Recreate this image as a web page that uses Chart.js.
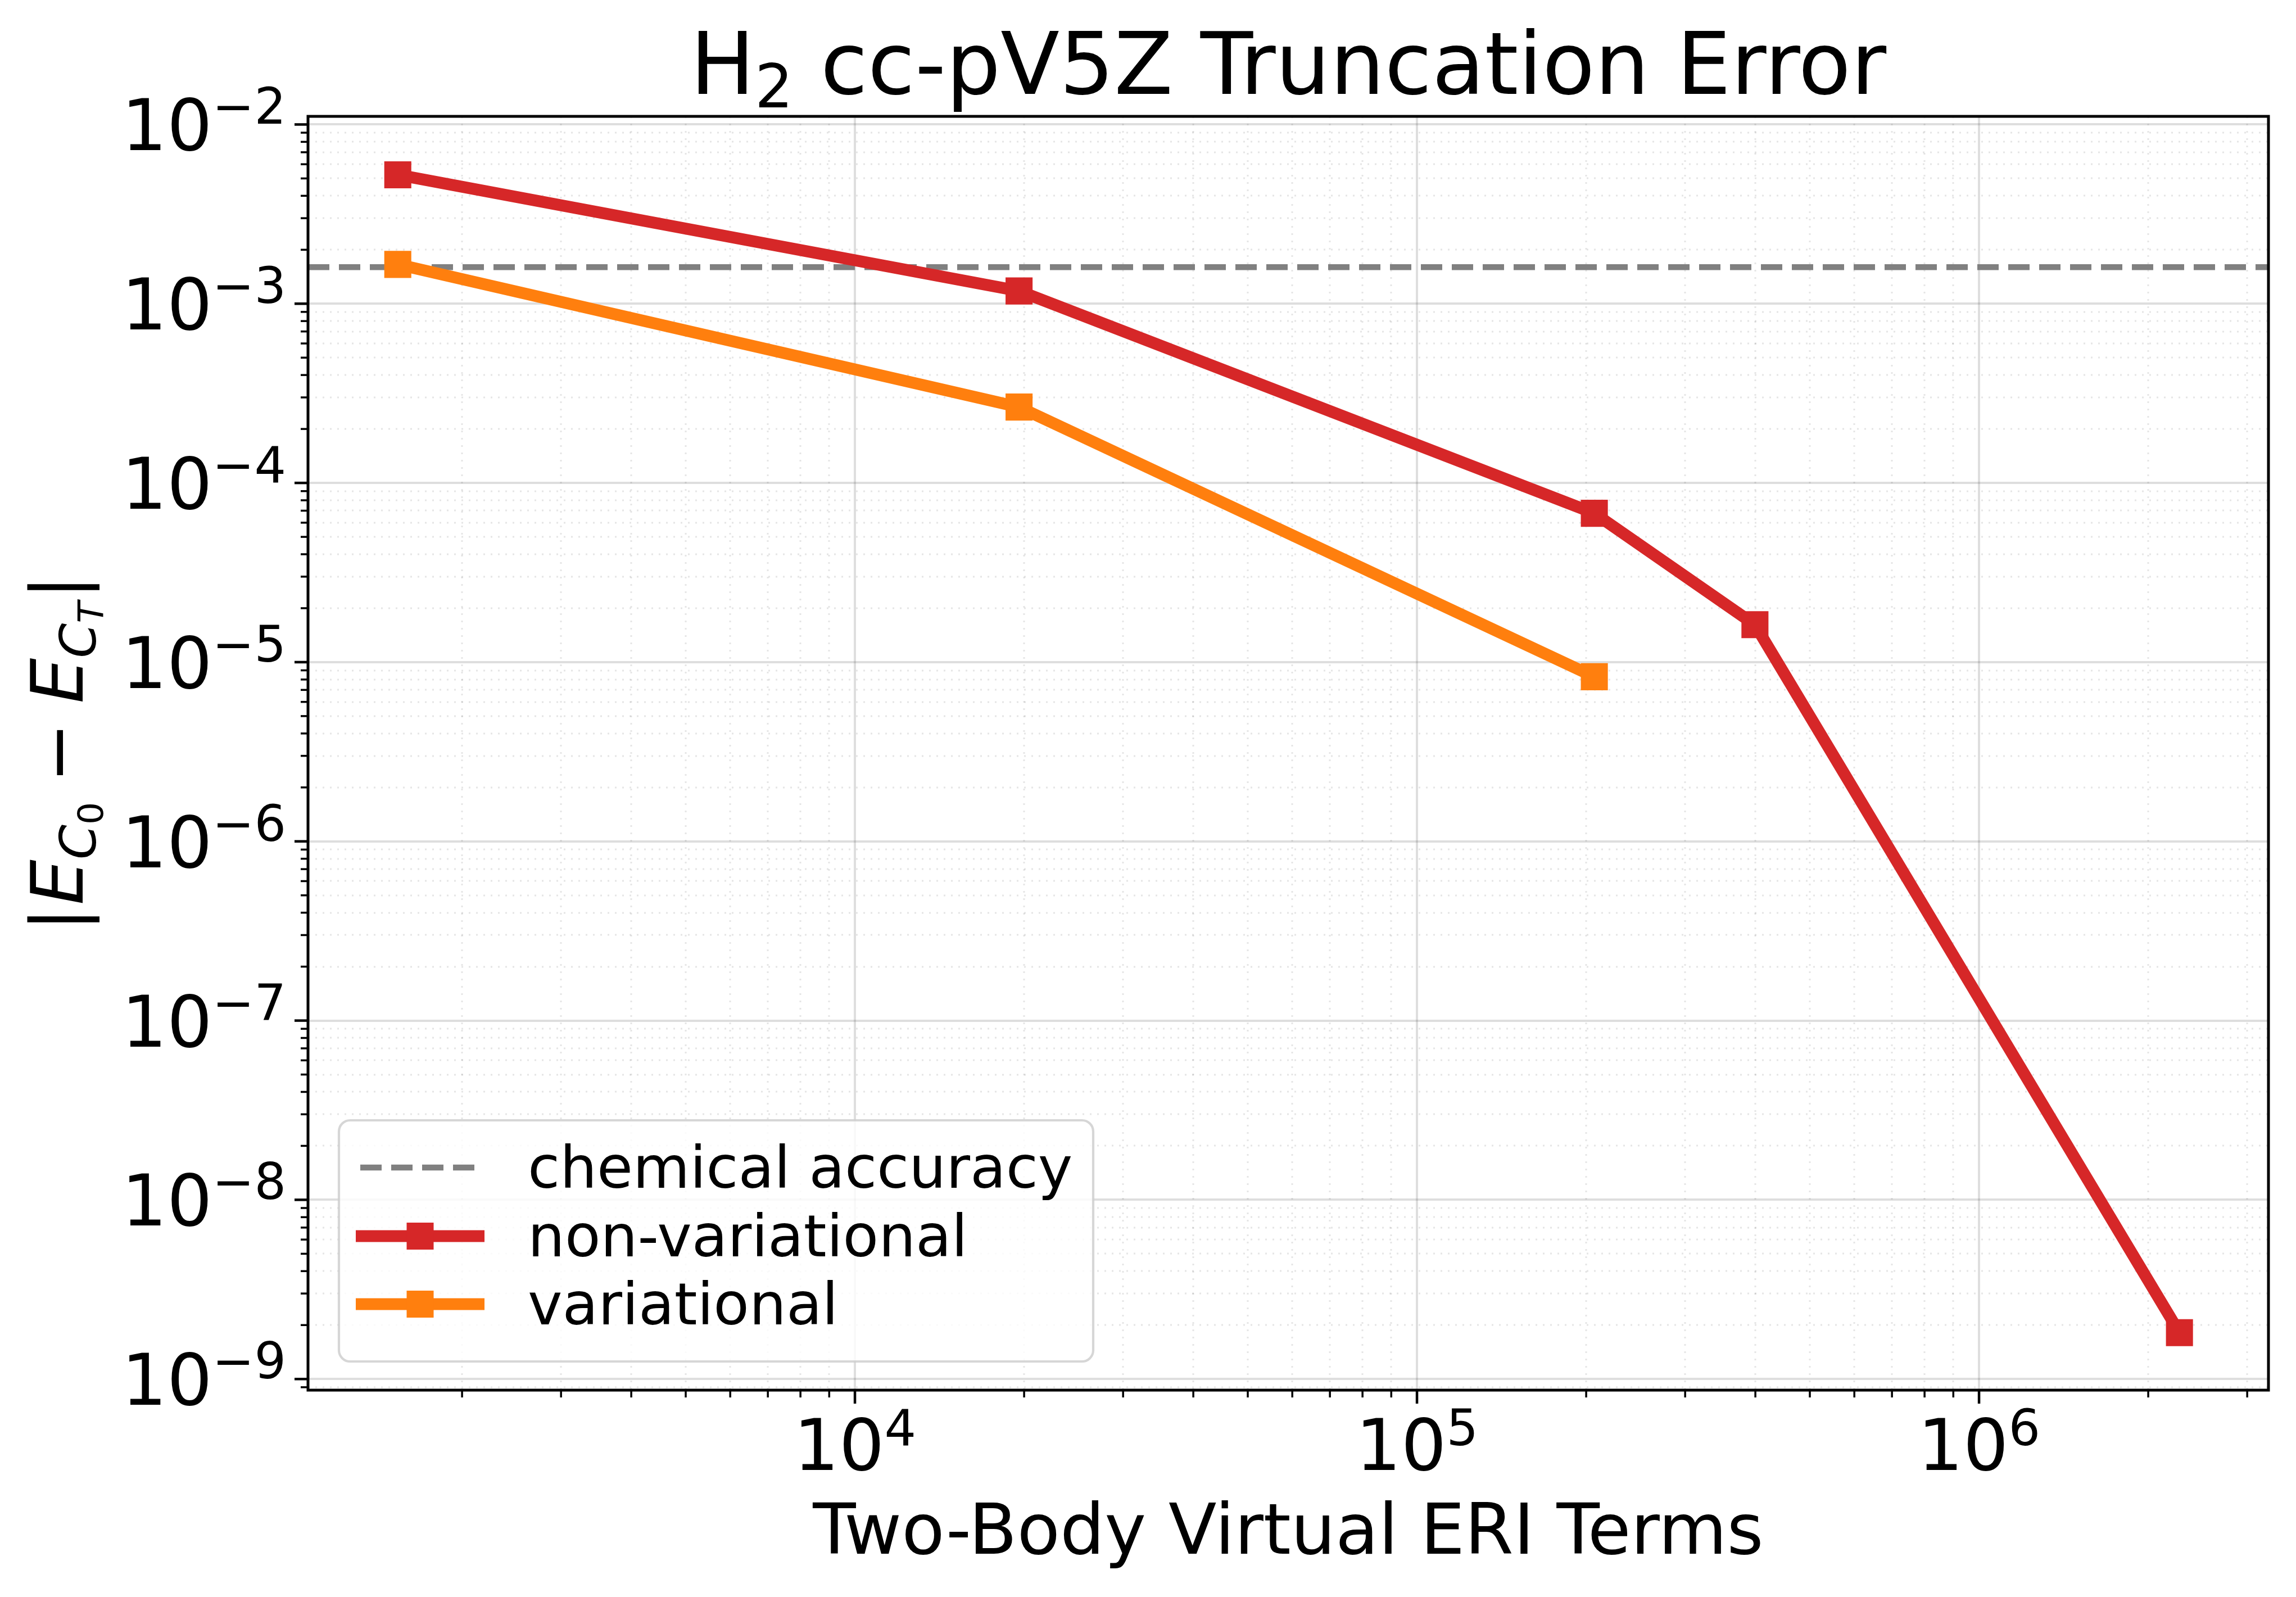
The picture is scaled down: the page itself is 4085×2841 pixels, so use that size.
<!DOCTYPE html>
<html>
<head>
<meta charset="utf-8">
<title>H2 cc-pV5Z Truncation Error</title>
<script src="https://cdn.jsdelivr.net/npm/chart.js@4.4.1/dist/chart.umd.min.js"></script>
<style>
  html, body { margin: 0; padding: 0; background: #fff; }
  canvas { display: block; }
</style>
</head>
<body>
<canvas id="chartResults" width="4085" height="2841" style="width:4085px;height:2841px"></canvas>
<script>
'use strict';

// values
var nonVarTerms = [1537, 19590, 206800, 399300, 2273000];
var nonVarError = [5.24e-3, 1.178e-3, 6.77e-5, 1.618e-5, 1.815e-9];
var varTerms = [1537, 19590, 206800];
var varError = [1.657e-3, 2.65e-4, 8.29e-6];
var chemAccuracy = [1.6e-3];

// axis limits and labelled decades
var xLimits = [1064, 3.273e6];
var yLimits = [8.67e-10, 1.11e-2];
var xMajorExp = [4, 5, 6];
var yMajorExp = [-9, -8, -7, -6, -5, -4, -3, -2];

var FONT = "'DejaVu Sans'";
var RED = '#d62728';
var ORANGE = '#ff7f0e';
var GRAY = '#808080';

function pts(xs, ys){
  return xs.map(function(x, i){ return {x: x, y: ys[i]}; });
}

function isMajor(v){
  var e = Math.log10(v);
  return Math.abs(e - Math.round(e)) < 1e-6;
}

// minor tick values (2..9 x 10^n) inside a range
function minorValues(lim){
  var out = [];
  var lo = Math.floor(Math.log10(lim[0])), hi = Math.ceil(Math.log10(lim[1]));
  for(let e = lo; e <= hi; ++e){
    for(let k = 2; k <= 9; ++k){
      var v = k * Math.pow(10, e);
      if(v >= lim[0] && v <= lim[1]) out.push(v);
    }
  }
  return out;
}

// draws 10^exp with a raised, smaller exponent
function drawPow(ctx, exp, x, y, align, supDy){
  var base = '10';
  var sup = (exp < 0 ? '\u2212' : '') + Math.abs(exp);
  ctx.font = '127px ' + FONT;
  var wb = ctx.measureText(base).width;
  ctx.font = '89px ' + FONT;
  var ws = ctx.measureText(sup).width;
  var left = align === 'right' ? x - wb - ws : x - (wb + ws) / 2;
  ctx.textAlign = 'left';
  ctx.textBaseline = 'alphabetic';
  ctx.font = '127px ' + FONT;
  ctx.fillText(base, left, y);
  ctx.font = '89px ' + FONT;
  ctx.fillText(sup, left + wb, y + supDy);
}

// pieces laid out along a baseline: [text, size, italic, dy]
function drawPieces(ctx, pieces, x, y){
  var widths = pieces.map(function(p){
    if(p[0] === null) return p[1];
    ctx.font = (p[2] ? 'italic ' : '') + p[1] + 'px ' + FONT;
    return ctx.measureText(p[0]).width;
  });
  var total = widths.reduce(function(a, b){ return a + b; }, 0);
  var cx = x - total / 2;
  ctx.textAlign = 'left';
  ctx.textBaseline = 'alphabetic';
  pieces.forEach(function(p, i){
    if(p[0] !== null){
      ctx.font = (p[2] ? 'italic ' : '') + p[1] + 'px ' + FONT;
      ctx.fillText(p[0], cx, y + p[3]);
    }
    cx += widths[i];
  });
}

var decor = {
  id: 'decor',
  beforeDatasetsDraw: function(chart){
    var ctx = chart.ctx, a = chart.chartArea;
    var xs = chart.scales.x, ys = chart.scales.y;
    // dotted minor grid
    ctx.save();
    ctx.strokeStyle = 'rgba(0,0,0,0.1)';
    ctx.lineWidth = 3;
    ctx.setLineDash([3, 10]);
    minorValues(xLimits).forEach(function(v){
      var px = Math.round(xs.getPixelForValue(v));
      ctx.beginPath(); ctx.moveTo(px, a.top); ctx.lineTo(px, a.bottom); ctx.stroke();
    });
    minorValues(yLimits).forEach(function(v){
      var py = Math.round(ys.getPixelForValue(v));
      ctx.beginPath(); ctx.moveTo(a.left, py); ctx.lineTo(a.right, py); ctx.stroke();
    });
    ctx.restore();
  },
  afterDatasetsDraw: function(chart){
    var ctx = chart.ctx, a = chart.chartArea;
    var xs = chart.scales.x, ys = chart.scales.y;
    var cx = (a.left + a.right) / 2, cy = (a.top + a.bottom) / 2;
    ctx.save();

    // frame
    ctx.strokeStyle = '#000';
    ctx.lineWidth = 5;
    ctx.strokeRect(a.left, a.top, a.right - a.left, a.bottom - a.top);

    // tick marks
    ctx.lineCap = 'butt';
    ctx.lineWidth = 4.5;
    xMajorExp.forEach(function(e){
      var px = xs.getPixelForValue(Math.pow(10, e));
      ctx.beginPath(); ctx.moveTo(px, a.bottom); ctx.lineTo(px, a.bottom + 24); ctx.stroke();
    });
    yMajorExp.forEach(function(e){
      var py = ys.getPixelForValue(Math.pow(10, e));
      ctx.beginPath(); ctx.moveTo(a.left, py); ctx.lineTo(a.left - 24, py); ctx.stroke();
    });
    ctx.lineWidth = 3.5;
    minorValues(xLimits).forEach(function(v){
      var px = xs.getPixelForValue(v);
      ctx.beginPath(); ctx.moveTo(px, a.bottom); ctx.lineTo(px, a.bottom + 13); ctx.stroke();
    });
    minorValues(yLimits).forEach(function(v){
      var py = ys.getPixelForValue(v);
      ctx.beginPath(); ctx.moveTo(a.left, py); ctx.lineTo(a.left - 13, py); ctx.stroke();
    });

    // tick labels
    ctx.fillStyle = '#000';
    xMajorExp.forEach(function(e){
      drawPow(ctx, e, xs.getPixelForValue(Math.pow(10, e)), a.bottom + 142, 'center', -44);
    });
    yMajorExp.forEach(function(e){
      drawPow(ctx, e, a.left - 39, ys.getPixelForValue(Math.pow(10, e)) + 46, 'right', -47);
    });

    // title
    drawPieces(ctx, [
      ['H', 153, false, 0],
      ['2', 107, false, 24],
      [' cc-pV5Z Truncation Error', 153, false, 0]
    ], cx, 167);

    // x axis label
    ctx.font = '125px ' + FONT;
    ctx.textAlign = 'center';
    ctx.fillText('Two-Body Virtual ERI Terms', cx, 2764);

    // y axis label |E_{C_0} - E_{C_T}|
    ctx.save();
    ctx.translate(147, cy);
    ctx.rotate(-Math.PI / 2);
    drawPieces(ctx, [
      ['|', 128, false, 0],
      [null, 4],
      ['E', 128, true, 0],
      ['C', 89, true, 23],
      ['0', 63, false, 36],
      [null, 34],
      ['\u2212', 128, false, 0],
      [null, 34],
      ['E', 128, true, 0],
      ['C', 89, true, 23],
      ['T', 63, true, 36],
      [null, 4],
      ['|', 128, false, 0]
    ], 0, 0);
    ctx.restore();

    // legend
    var lx = 603, ly = 1993, lw = 1342, lh = 429;
    ctx.beginPath();
    ctx.roundRect(lx, ly, lw, lh, 20);
    ctx.fillStyle = 'rgba(255,255,255,0.8)';
    ctx.fill();
    ctx.lineWidth = 4.2;
    ctx.strokeStyle = 'rgba(204,204,204,0.8)';
    ctx.stroke();

    var rows = chart.data.datasets;
    var rowY = [2077, 2199, 2320];
    rows.forEach(function(ds, i){
      var y = rowY[i];
      ctx.save();
      ctx.strokeStyle = ds.borderColor;
      ctx.lineWidth = ds.borderWidth;
      if(ds.borderDash){
        ctx.setLineDash(ds.borderDash);
        ctx.beginPath(); ctx.moveTo(641, y); ctx.lineTo(846, y); ctx.stroke();
      } else {
        ctx.beginPath(); ctx.moveTo(633, y); ctx.lineTo(862, y); ctx.stroke();
        ctx.fillStyle = ds.pointBackgroundColor;
        ctx.fillRect(747.5 - 24, y - 24, 48, 48);
      }
      ctx.restore();
      ctx.fillStyle = '#000';
      ctx.font = '104px ' + FONT;
      ctx.textAlign = 'left';
      ctx.fillText(ds.label, 939, y + 36);
    });

    ctx.restore();
  }
};

var gridColor = function(c){
  return (c.tick && isMajor(c.tick.value)) ? 'rgba(0,0,0,0.13)' : 'rgba(0,0,0,0)';
};
var gridWidth = function(c){
  return (c.tick && isMajor(c.tick.value)) ? 4 : 0;
};

var ctx = document.getElementById('chartResults').getContext('2d');
var chart = new Chart(ctx, {
  type: 'line',
  data: {
    datasets: [{
      label: 'chemical accuracy',
      data: pts(xLimits, [chemAccuracy[0], chemAccuracy[0]]),
      borderColor: GRAY,
      borderWidth: 10.4,
      borderDash: [38, 17],
      pointRadius: 0,
      order: 3
    }, {
      label: 'non-variational',
      data: pts(nonVarTerms, nonVarError),
      borderColor: RED,
      backgroundColor: RED,
      pointBackgroundColor: RED,
      borderWidth: 21,
      borderJoinStyle: 'round',
      pointStyle: 'rect',
      pointRadius: 34,
      pointBorderWidth: 0,
      order: 2
    }, {
      label: 'variational',
      data: pts(varTerms, varError),
      borderColor: ORANGE,
      backgroundColor: ORANGE,
      pointBackgroundColor: ORANGE,
      borderWidth: 21,
      borderJoinStyle: 'round',
      pointStyle: 'rect',
      pointRadius: 34,
      pointBorderWidth: 0,
      order: 1
    }]
  },
  options: {
    responsive: false,
    animation: false,
    devicePixelRatio: 1,
    events: [],
    layout: { padding: { left: 548, top: 207, right: 49, bottom: 368 } },
    plugins: { legend: { display: false }, tooltip: { enabled: false } },
    scales: {
      x: {
        type: 'logarithmic',
        position: 'bottom',
        bounds: 'data',
        min: xLimits[0],
        max: xLimits[1],
        border: { display: false },
        ticks: { display: false },
        grid: { drawTicks: false, color: gridColor, lineWidth: gridWidth }
      },
      y: {
        type: 'logarithmic',
        position: 'left',
        bounds: 'data',
        min: yLimits[0],
        max: yLimits[1],
        border: { display: false },
        ticks: { display: false },
        grid: { drawTicks: false, color: gridColor, lineWidth: gridWidth }
      }
    }
  },
  plugins: [decor]
});
</script>
</body>
</html>
